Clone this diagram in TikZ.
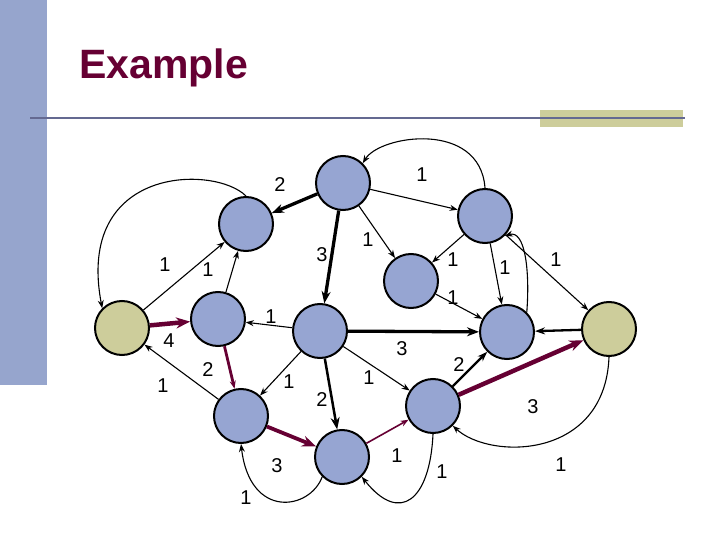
\documentclass[tikz,border=0pt]{standalone}
\usepackage{fontspec}
\setmainfont{Liberation Sans}
\usetikzlibrary{arrows.meta}
\definecolor{nodeblue}{RGB}{150,165,210}
\definecolor{tan}{RGB}{205,205,155}
\definecolor{maroon}{RGB}{102,0,51}
\definecolor{barblue}{RGB}{150,165,205}
\definecolor{lineblue}{RGB}{100,105,145}
\begin{document}
\begin{tikzpicture}[x=1pt,y=-1pt,
  vtx/.style={circle,draw,line width=2pt,fill=nodeblue,minimum size=54pt,inner sep=0pt},
  tvtx/.style={vtx,fill=tan},
  e/.style={-{Stealth[length=8pt,width=6pt]},line width=1.1pt},
  ew/.style={-{Stealth[length=12pt,width=9pt]},line width=3.3pt},
  em/.style={-{Stealth[length=10pt,width=7pt]},line width=2.3pt},
  mr/.style={-{Stealth[length=14pt,width=11pt]},line width=4.5pt,draw=maroon},
  mt/.style={-{Stealth[length=8pt,width=6pt]},line width=1.6pt,draw=maroon},
  lb/.style={font=\fontsize{20}{20}\selectfont,inner sep=1pt}]
\useasboundingbox (0,0) rectangle (720,540);
\fill[barblue] (0,0) rectangle (47,385);
\fill[tan] (540,110) rectangle (683,127);
\draw[lineblue,line width=2.5pt] (30,118) -- (685,118);
\node[anchor=west,text=maroon,font=\bfseries\fontsize{41}{41}\selectfont] (title) at (76,68) {Example};

\node[vtx] (A) at (343,183) {};
\node[vtx] (B) at (246,224) {};
\node[tvtx] (S) at (122,328) {};
\node[vtx] (C) at (218,319) {};
\node[vtx] (D) at (320,331) {};
\node[vtx] (E) at (411,281) {};
\node[vtx] (F) at (485,216) {};
\node[vtx] (G) at (507,332) {};
\node[tvtx] (T) at (609,329) {};
\node[vtx] (H) at (241,416) {};
\node[vtx] (I) at (342,457) {};
\node[vtx] (J) at (433,406) {};

\draw[ew] (A) -- (B);
\draw[ew] (A) -- (D);
\draw[e] (A) -- (E);
\draw[e] (A) -- (F);
\draw[e] (F.north) .. controls (480,120) and (380,135) .. (A.north east);
\draw[e] (B.north) .. controls (215,165) and (75,165) .. (S.north west);
\draw[e] (S) -- (B);
\draw[e] (C) -- (B);
\draw[mr] (S) -- (C);
\draw[e] (D) -- (C);
\draw[mt,line width=2.8pt] (C) -- (H);
\draw[e] (H) -- (S);
\draw[e] (D) -- (H);
\draw[ew,line width=2.5pt] (D) -- (I);
\draw[mr,line width=3.8pt] (H) -- (I);
\draw[ew] (D) -- (G);
\draw[e] (D) -- (J);
\draw[e] (F) -- (E);
\draw[e] (E) -- (G);
\draw[e] (F) -- (G);
\draw[e] (G.north east) .. controls (530,270) and (525,230) .. (F.south east);
\draw[e] (F) -- (T);
\draw[em] (T) -- (G);
\draw[em] (J) -- (G);
\draw[mr] (J) -- (T);
\draw[e] (T.south) .. controls (605,460) and (490,460) .. (J.south east);
\draw[mt] (I) -- (J);
\draw[e] (J.south) .. controls (430,500) and (400,525) .. (I.south east);
\draw[e] (I.south west) .. controls (310,510) and (250,520) .. (H.south);

\node[lb] (l1) at (280,185) {2};
\node[lb] (l2) at (422,175) {1};
\node[lb] (l3) at (322,255) {3};
\node[lb] (l4) at (368,240) {1};
\node[lb] (l5) at (165,265) {1};
\node[lb] (l6) at (208,270) {1};
\node[lb] (l7) at (453,260) {1};
\node[lb] (l8) at (505,268) {1};
\node[lb] (l9) at (556,260) {1};
\node[lb] (l10) at (453,298) {1};
\node[lb] (l11) at (271,317) {1};
\node[lb] (l12) at (169,341) {4};
\node[lb] (l13) at (402,349) {3};
\node[lb] (l14) at (208,370) {2};
\node[lb] (l15) at (163,386) {1};
\node[lb] (l16) at (289,382) {1};
\node[lb] (l17) at (322,400) {2};
\node[lb] (l18) at (369,378) {1};
\node[lb] (l19) at (459,365) {2};
\node[lb] (l20) at (533,407) {3};
\node[lb] (l21) at (277,466) {3};
\node[lb] (l22) at (397,456) {1};
\node[lb] (l23) at (442,472) {1};
\node[lb] (l24) at (561,465) {1};
\node[lb] (l25) at (246,498) {1};
\end{tikzpicture}
\end{document}
